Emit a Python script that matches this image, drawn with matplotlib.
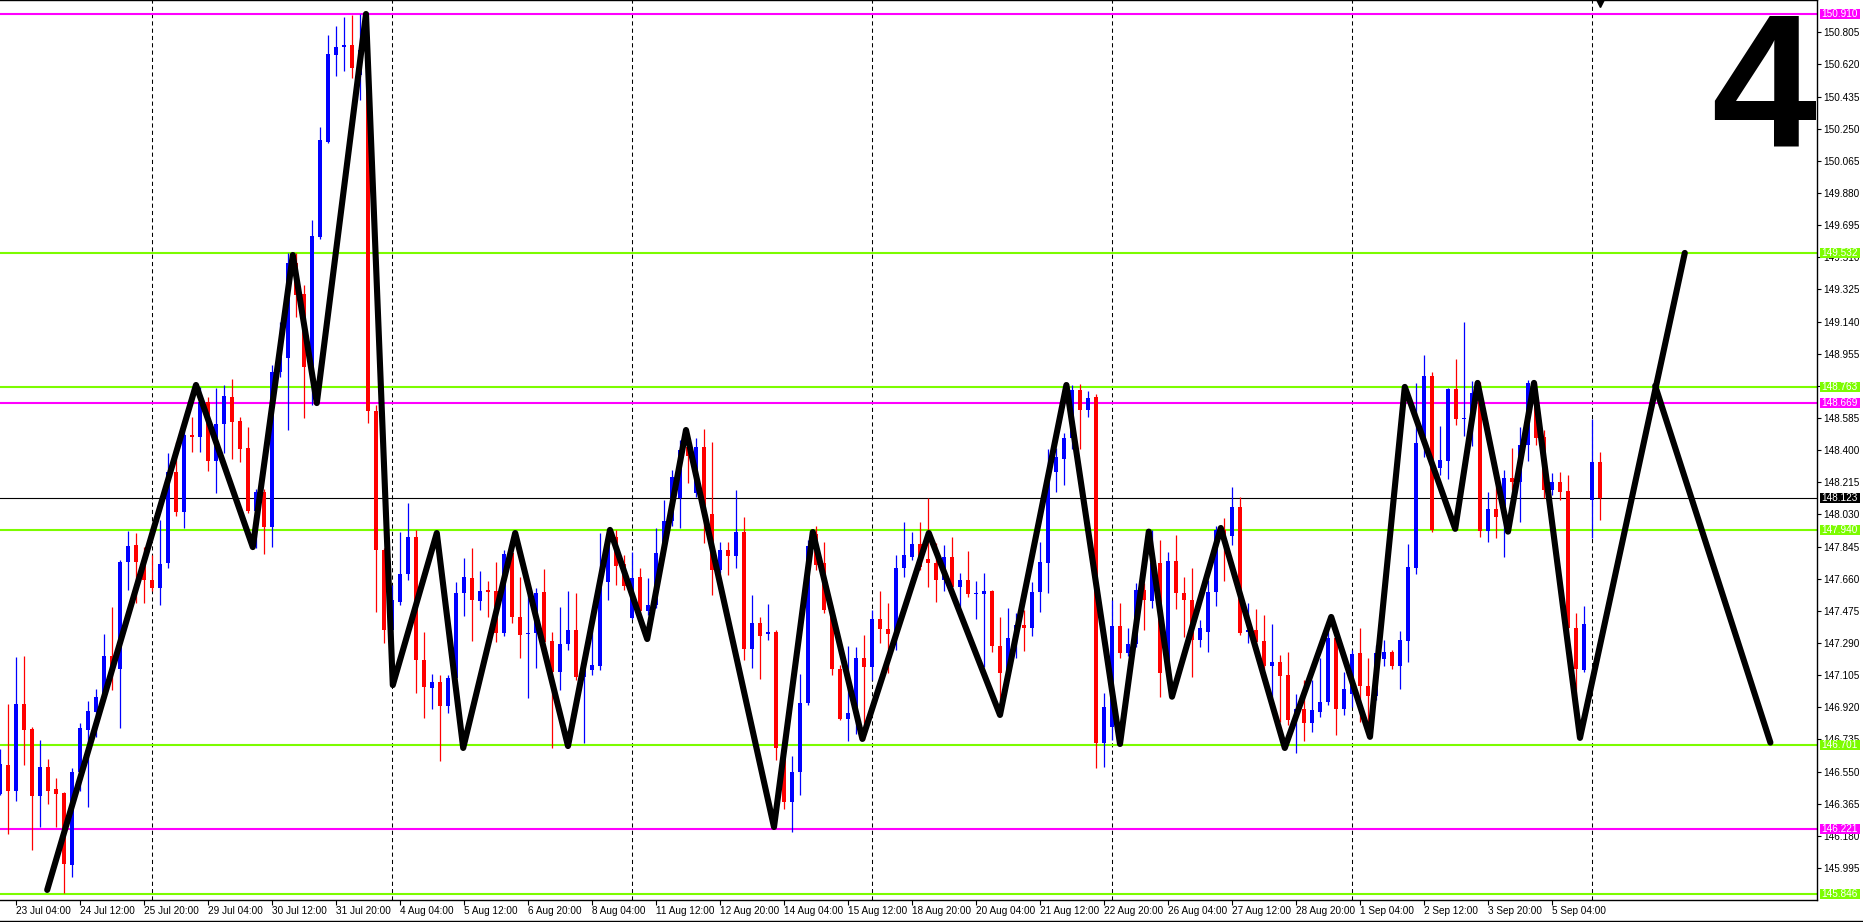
import matplotlib
matplotlib.use("Agg")
import matplotlib.pyplot as plt
from matplotlib.patches import Rectangle
import numpy as np

# USDJPY H4, bar 0 = 22 Jul 20:00, bar 200 = 8 Sep 04:00
opens = [146.421, 146.588, 146.438, 146.939, 146.795, 146.409, 146.577, 146.450, 146.427, 146.012,
         146.548, 146.790, 146.893, 146.980, 147.215, 147.140, 147.756, 147.854, 147.756, 147.653,
         147.607, 147.751, 148.274, 148.044, 148.487, 148.476, 148.677, 148.338, 148.551, 148.706,
         148.568, 148.412, 148.050, 148.159, 147.958, 148.850, 148.930, 149.477, 149.299, 148.879,
         149.626, 150.173, 150.674, 150.720, 150.732, 150.560, 150.700, 148.625, 147.825, 147.365,
         147.526, 147.687, 147.900, 147.192, 147.031, 147.066, 146.928, 147.089, 147.578, 147.664,
         147.532, 147.595, 147.589, 147.348, 147.808, 147.440, 147.342, 147.348, 147.584, 147.302,
         147.123, 147.285, 147.365, 147.095, 147.135, 147.158, 147.641, 147.900, 147.745, 147.434,
         147.670, 147.474, 147.509, 147.808, 147.992, 148.125, 148.418, 148.154, 148.418, 148.033,
         147.710, 147.825, 147.791, 147.929, 147.256, 147.405, 147.342, 147.353, 146.686, 146.375,
         146.548, 146.945, 147.917, 147.751, 147.480, 147.140, 146.853, 146.887, 147.204, 147.152,
         147.428, 147.371, 147.342, 147.722, 147.785, 147.860, 147.774, 147.751, 147.653, 147.785,
         147.613, 147.653, 147.572, 147.572, 147.589, 147.273, 147.117, 147.319, 147.394, 147.377,
         147.584, 147.751, 148.274, 148.349, 148.470, 148.746, 148.631, 148.706, 146.715, 146.807,
         147.388, 147.233, 147.285, 147.595, 147.532, 147.751, 147.117, 147.762, 147.578, 147.538,
         147.307, 147.353, 147.584, 147.941, 147.906, 148.073, 147.353, 147.365, 147.302, 147.158,
         147.181, 147.106, 146.847, 146.910, 146.830, 146.893, 146.951, 147.319, 146.910, 146.997,
         147.233, 147.042, 146.985, 147.198, 147.238, 147.158, 147.302, 147.722, 148.441, 148.827,
         148.298, 148.337, 148.752, 148.579, 148.579, 148.729, 147.935, 148.062, 148.015, 148.240,
         148.217, 148.430, 148.746, 148.476, 148.171, 148.217, 148.165, 147.377, 147.135, 148.113,
         148.332]
highs = [146.680, 146.939, 147.210, 147.215, 146.807, 146.732, 146.623, 146.513, 146.430, 146.571,
         146.830, 146.956, 147.025, 147.342, 147.497, 147.768, 147.935, 147.923, 147.842, 147.797,
         147.998, 148.384, 148.447, 148.516, 148.591, 148.764, 148.706, 148.758, 148.775, 148.810,
         148.591, 148.533, 148.176, 148.176, 148.890, 149.137, 149.535, 149.535, 149.350, 149.725,
         150.260, 150.789, 150.841, 150.893, 150.904, 150.910, 150.760, 148.660, 147.837, 147.624,
         147.929, 148.096, 147.941, 147.353, 147.112, 147.106, 147.106, 147.641, 147.779, 147.837,
         147.705, 147.647, 147.756, 147.825, 147.848, 147.670, 147.566, 147.607, 147.716, 147.353,
         147.497, 147.589, 147.578, 147.192, 147.365, 147.923, 147.941, 147.941, 147.797, 147.814,
         147.722, 147.664, 147.952, 148.113, 148.286, 148.458, 148.470, 148.470, 148.522, 148.447,
         147.871, 147.871, 148.171, 148.015, 147.566, 147.440, 147.515, 147.365, 146.703, 146.640,
         147.112, 147.883, 147.964, 147.871, 147.509, 147.163, 147.273, 147.267, 147.336, 147.480,
         147.589, 147.520, 147.797, 147.987, 147.929, 147.987, 148.125, 147.866, 147.854, 147.900,
         147.693, 147.820, 147.647, 147.693, 147.595, 147.440, 147.491, 147.463, 147.480, 147.641,
         147.871, 148.407, 148.412, 148.499, 148.775, 148.781, 148.740, 148.723, 147.003, 147.538,
         147.520, 147.377, 147.636, 147.636, 147.941, 147.883, 147.814, 147.912, 147.670, 147.722,
         147.423, 147.653, 147.964, 148.010, 148.188, 148.131, 147.520, 147.486, 147.451, 147.399,
         147.221, 147.238, 146.997, 147.077, 147.077, 147.204, 147.377, 147.330, 147.123, 147.250,
         147.377, 147.204, 147.279, 147.307, 147.250, 147.359, 147.860, 148.786, 148.947, 148.850,
         148.539, 148.758, 148.924, 149.137, 148.798, 148.792, 148.159, 148.188, 148.286, 148.412,
         148.533, 148.804, 148.787, 148.516, 148.269, 148.274, 148.257, 147.463, 147.503, 148.579,
         148.389]
lows = [146.415, 146.191, 146.381, 146.588, 146.099, 146.231, 146.364, 146.231, 145.852, 145.944,
        146.438, 146.347, 146.750, 146.962, 147.020, 146.801, 147.595, 147.520, 147.520, 147.589,
        147.509, 147.722, 148.021, 147.952, 148.389, 148.389, 148.280, 148.154, 148.384, 148.349,
        148.332, 148.038, 147.837, 147.802, 147.842, 148.821, 148.516, 149.166, 148.585, 148.660,
        149.615, 150.168, 150.553, 150.582, 150.542, 150.415, 148.556, 147.468, 147.290, 147.042,
        147.509, 147.653, 147.003, 146.859, 146.910, 146.611, 146.887, 147.077, 147.445, 147.302,
        147.480, 147.440, 147.296, 147.330, 147.405, 147.204, 146.974, 147.146, 147.279, 146.686,
        147.020, 147.250, 147.077, 146.715, 147.106, 147.135, 147.538, 147.624, 147.595, 147.428,
        147.451, 147.451, 147.491, 147.791, 147.964, 147.952, 148.211, 148.131, 147.866, 147.566,
        147.693, 147.682, 147.722, 147.192, 147.146, 147.083, 147.307, 146.617, 146.335, 146.203,
        146.415, 146.933, 147.710, 147.463, 147.106, 146.847, 146.726, 146.767, 146.732, 147.077,
        147.290, 147.117, 147.250, 147.670, 147.768, 147.710, 147.613, 147.526, 147.589, 147.595,
        147.497, 147.555, 147.428, 147.152, 147.238, 146.962, 147.100, 147.204, 147.244, 147.330,
        147.468, 147.578, 148.159, 148.200, 148.407, 148.407, 148.591, 146.571, 146.577, 146.732,
        147.204, 147.215, 147.267, 147.365, 147.491, 146.979, 147.100, 147.486, 147.325, 147.095,
        147.267, 147.238, 147.503, 147.647, 147.854, 147.336, 147.290, 147.279, 147.135, 146.979,
        146.836, 146.818, 146.657, 146.726, 146.778, 146.864, 146.933, 146.761, 146.876, 146.922,
        146.836, 146.778, 146.962, 147.158, 147.140, 147.025, 147.181, 147.687, 148.361, 147.929,
        148.257, 148.234, 148.545, 148.482, 148.424, 147.900, 147.871, 147.894, 147.785, 148.171,
        147.987, 148.338, 148.430, 148.125, 148.142, 148.113, 147.215, 146.962, 147.123, 147.894,
        147.998]
closes = [146.594, 146.438, 146.939, 146.790, 146.409, 146.577, 146.438, 146.421, 146.018, 146.548,
          146.801, 146.899, 146.980, 147.215, 147.135, 147.756, 147.848, 147.756, 147.653, 147.607,
          147.745, 148.274, 148.044, 148.487, 148.476, 148.677, 148.338, 148.551, 148.712, 148.562,
          148.407, 148.050, 148.159, 147.958, 148.850, 148.936, 149.477, 149.293, 148.879, 149.632,
          150.185, 150.680, 150.720, 150.732, 150.599, 150.700, 148.625, 147.825, 147.365, 147.538,
          147.687, 147.900, 147.192, 147.037, 147.066, 146.928, 147.089, 147.578, 147.670, 147.538,
          147.589, 147.584, 147.348, 147.802, 147.440, 147.336, 147.348, 147.578, 147.296, 147.123,
          147.285, 147.365, 147.095, 147.146, 147.163, 147.641, 147.900, 147.733, 147.618, 147.664,
          147.474, 147.509, 147.808, 147.992, 148.245, 148.401, 148.366, 148.418, 148.027, 147.710,
          147.825, 147.791, 147.929, 147.256, 147.405, 147.330, 147.353, 146.686, 146.375, 146.548,
          146.945, 147.848, 147.739, 147.480, 147.140, 146.853, 146.887, 147.204, 147.152, 147.428,
          147.371, 147.342, 147.722, 147.797, 147.860, 147.727, 147.751, 147.653, 147.785, 147.613,
          147.653, 147.572, 147.578, 147.589, 147.273, 147.117, 147.319, 147.394, 147.377, 147.584,
          147.756, 148.274, 148.361, 148.470, 148.746, 148.631, 148.700, 146.715, 146.922, 147.388,
          147.233, 147.285, 147.595, 147.538, 147.751, 147.117, 147.762, 147.578, 147.538, 147.307,
          147.377, 147.584, 147.941, 147.912, 148.073, 147.348, 147.365, 147.296, 147.158, 147.181,
          147.100, 146.847, 146.910, 146.830, 146.905, 146.951, 147.319, 146.910, 147.025, 147.227,
          147.042, 146.985, 147.233, 147.238, 147.158, 147.307, 147.727, 148.441, 148.827, 147.941,
          148.343, 148.752, 148.579, 148.585, 148.729, 147.935, 148.062, 148.015, 148.240, 148.217,
          148.430, 148.787, 148.470, 148.171, 148.217, 148.159, 147.377, 147.141, 147.400, 148.332,
          148.123]

# hand drawn zigzag (bar position, price)
zz_x = [5.9, 24.5, 31.6, 36.6, 39.6, 45.75, 49.1, 54.6, 57.9, 64.4, 71.0, 76.25, 80.9, 85.75,
        96.75, 101.6, 107.8, 116.1, 125.0, 133.3, 140.0, 143.6, 146.5, 152.6, 160.6, 166.4,
        171.25, 175.6, 181.9, 184.7, 188.5, 191.75, 197.5, 210.6]
zz_y = [145.869, 148.775, 147.842, 149.523, 148.671, 150.910, 147.048, 147.923, 146.686, 147.923,
        146.697, 147.941, 147.313, 148.516, 146.231, 147.929, 146.738, 147.923, 146.876, 148.775,
        146.709, 147.931, 146.981, 147.952, 146.686, 147.440, 146.750, 148.764, 147.947, 148.787,
        147.931, 148.787, 146.744, 149.535]
proj_x = [206.9, 221.3]
proj_y = [148.770, 146.717]

magenta_levels = [150.910, 148.669, 146.221]
green_levels = [149.532, 148.763, 147.940, 146.701, 145.846]
bid_price = 148.123

week_bars = [19, 49, 79, 109, 139, 169, 199]
xtick_bars = [2, 10, 18, 26, 34, 42, 50, 58, 66, 74, 82, 90, 98, 106, 114, 122, 130, 138,
              146, 154, 162, 170, 178, 186, 194]
xtick_labels = ['23 Jul 04:00', '24 Jul 12:00', '25 Jul 20:00', '29 Jul 04:00', '30 Jul 12:00',
                '31 Jul 20:00', '4 Aug 04:00', '5 Aug 12:00', '6 Aug 20:00', '8 Aug 04:00',
                '11 Aug 12:00', '12 Aug 20:00', '14 Aug 04:00', '15 Aug 12:00', '18 Aug 20:00',
                '20 Aug 04:00', '21 Aug 12:00', '22 Aug 20:00', '26 Aug 04:00', '27 Aug 12:00',
                '28 Aug 20:00', '1 Sep 04:00', '2 Sep 12:00', '3 Sep 20:00', '5 Sep 04:00']
ytick_vals = [145.995, 146.180, 146.365, 146.550, 146.735, 146.920, 147.105, 147.290, 147.475,
              147.660, 147.845, 148.030, 148.215, 148.400, 148.585, 148.770, 148.955, 149.140,
              149.325, 149.510, 149.695, 149.880, 150.065, 150.250, 150.435, 150.620, 150.805]

MAGENTA = '#FF00FF'
GREEN = '#7CFC00'
FS = 7.2

plt.rcParams['font.family'] = ['Liberation Sans', 'DejaVu Sans']
plt.rcParams['font.size'] = FS

W, H = 1863, 922
fig = plt.figure(figsize=(W / 100, H / 100), dpi=100)
fig.patch.set_facecolor('white')
ax = fig.add_axes([0, 22 / H, 1817 / W, 900 / H])
ax.set_xlim(0, 1817 / 8)
ax.set_ylim(145.8111, 150.9906)

o = np.array(opens)
c = np.array(closes)
hi = np.array(highs)
lo = np.array(lows)
x = np.arange(len(o))
up = c >= o
cols = np.where(up, '#0000FF', '#FF0000')

# wicks then bodies
ax.vlines(x, lo, hi, colors=cols, lw=0.9, zorder=3)
body_lo = np.minimum(o, c)
body_h = np.maximum(np.abs(c - o), 0.006)
ax.bar(x, body_h, bottom=body_lo, width=0.62, color=cols, linewidth=0, zorder=3)

# period separators
for b in week_bars:
    ax.axvline(b, color='black', lw=0.75, linestyle=(0, (4, 3)), zorder=1)

# levels
for lv in magenta_levels:
    ax.axhline(lv, color=MAGENTA, lw=1.5, zorder=2)
for lv in green_levels:
    ax.axhline(lv, color=GREEN, lw=1.5, zorder=2)
ax.axhline(bid_price, color='black', lw=0.8, zorder=2)

# zigzag
ax.plot(zz_x, zz_y, color='black', lw=4.4, solid_joinstyle='round', solid_capstyle='round', zorder=5)
ax.plot(proj_x, proj_y, color='black', lw=4.4, solid_capstyle='round', zorder=5)

# axes styling
ax.spines['left'].set_visible(False)
for s in ['top', 'right', 'bottom']:
    ax.spines[s].set_linewidth(1.0)
ax.yaxis.tick_right()
ax.set_yticks(ytick_vals)
ax.set_yticklabels(['%.3f' % v for v in ytick_vals])
ax.tick_params(axis='y', direction='out', length=3.2, width=0.8, pad=1, labelsize=FS)
ax.set_xticks(xtick_bars)
ax.set_xticklabels(xtick_labels)
ax.tick_params(axis='x', direction='out', length=3.6, width=0.8, pad=0.8, labelsize=FS)
for lab in ax.get_xticklabels():
    lab.set_ha('left')

# price tags on the right scale
ytr = ax.get_yaxis_transform()
tag_w = 40 / 1817
tag_h = 10 * 0.005755
tags = [(v, MAGENTA) for v in magenta_levels] + [(v, GREEN) for v in green_levels] + [(bid_price, 'black')]
for v, col in tags:
    ax.add_patch(Rectangle((1820 / 1817, v - tag_h / 2), tag_w, tag_h, transform=ytr,
                           facecolor=col, edgecolor='none', clip_on=False, zorder=6))
    ax.text(1821.5 / 1817, v, '%.3f' % v, transform=ytr, ha='left', va='center',
            color='white', fontsize=FS, clip_on=False, zorder=7)

# shift marker on top
ax.plot([200], [1 - 2.5 / 900], transform=ax.get_xaxis_transform(), marker='v', ms=6.5,
        color='black', clip_on=False, zorder=6)

# bottom border of the window
fig.add_artist(plt.Line2D([0, 1], [0.6 / H, 0.6 / H], transform=fig.transFigure, color='black', lw=1))

# big timeframe digit
fig.text(1816 / W, 1 - 146 / H, '4', ha='right', va='baseline', fontsize=136,
         fontweight='bold', family=['Liberation Sans', 'DejaVu Sans'], color='black', zorder=8)

fig.savefig('out.png', dpi=100, facecolor='white')
